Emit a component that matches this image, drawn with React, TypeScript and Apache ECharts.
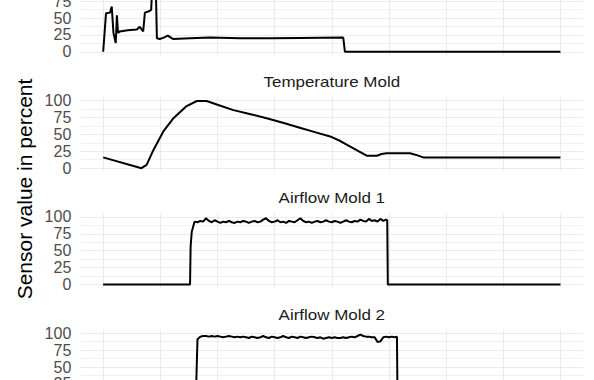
import React, { useEffect, useRef } from "react";
import * as echarts from "echarts";

// ---------- data (x in time units, y in percent) ----------
const topX = [0, 5, 12, 15, 18, 22, 24, 26, 29, 43, 59, 64, 70, 73, 80, 84, 86, 92, 94, 99, 106, 113, 122, 152, 187, 239, 292, 344, 420, 423, 800];
const topY = [0, 57, 58, 67, 28, 13, 54, 28, 30, 32, 33, 37, 30, 58, 60, 62, 100, 100, 20, 19, 21, 24, 19, 20, 21, 20, 20, 20.5, 21, 0, 0];

const tempX = [0, 67, 76, 88, 105, 123, 146, 164, 181, 200, 228, 258, 286, 316, 344, 372, 397, 413, 426, 445, 461, 479, 487, 496, 537, 546, 560, 800];
const tempY = [16, 0, 5, 27, 54, 74, 92, 99.5, 99.5, 94, 86, 80, 74, 67, 60, 53, 47, 41, 35, 26, 18.5, 18.5, 21, 22, 22, 20, 16, 16];

const af1StartX = [0, 152, 153, 155, 160];
const af1StartY = [0, 0, 56, 78, 93];
const af1PlateauFrom = 165;
const af1PlateauStep = 5;
const af1Plateau = [92, 94, 93, 98, 94, 92, 95, 93, 91, 93, 92, 94, 92, 91, 93, 92, 94, 93, 91, 93, 94, 92, 93, 96, 98, 94, 92, 93, 95, 92, 93, 91, 94, 93, 92, 95, 98, 94, 92, 93, 91, 93, 94, 92, 93, 95, 93, 92, 94, 93, 91, 93, 95, 93, 92, 94, 93, 96, 94, 93, 97, 94, 95, 93, 97, 94, 96];
const af1EndX = [497, 498, 800];
const af1EndY = [95, 0, 0];

const af2StartX = [0, 162, 164, 165, 170];
const af2StartY = [0, 0, 60, 91, 95];
const af2PlateauFrom = 175;
const af2PlateauStep = 5;
const af2Plateau = [96, 96, 95, 96, 95, 96, 95, 94, 95, 96, 95, 94, 95, 94, 95, 94, 93, 95, 94, 93, 94, 96, 94, 93, 95, 94, 93, 94, 96, 94, 93, 95, 94, 93, 95, 94, 93, 94, 95, 94, 93, 94, 92, 93, 94, 93, 94, 93, 93, 94, 93, 94, 95, 94, 96, 98, 96, 95, 95, 94, 94, 87, 88, 94, 95, 94, 95, 94];
const af2EndX = [514, 515, 800];
const af2EndY = [95, 0, 0];

const panelTitles = ["", "Temperature Mold", "Airflow Mold 1", "Airflow Mold 2"];
const yTickLabels = [0, 25, 50, 75, 100];
const yAxisTitle = "Sensor value in percent";

// ---------- helpers ----------
const zip = (xs: number[], ys: number[]) => xs.map((x, i) => [x, ys[i]]);
const plateau = (from: number, step: number, vals: number[]) => vals.map((v, i) => [from + i * step, v]);

const series0 = zip(topX, topY);
const series1 = zip(tempX, tempY);
const series2 = [...zip(af1StartX, af1StartY), ...plateau(af1PlateauFrom, af1PlateauStep, af1Plateau), ...zip(af1EndX, af1EndY)];
const series3 = [...zip(af2StartX, af2StartY), ...plateau(af2PlateauFrom, af2PlateauStep, af2Plateau), ...zip(af2EndX, af2EndY)];
const allSeries = [series0, series1, series2, series3];

// ---------- layout ----------
const OFFSET = 120;
const panelTops = [-19.1, 97.3, 213.5, 329.9];
const panelHeight = 74.25;
const panelLeft = 80.3;
const panelWidth = 503;

export default function App() {
  const ref = useRef<HTMLDivElement>(null);
  useEffect(() => {
    if (!ref.current) return;
    const chart = echarts.init(ref.current, null, { renderer: "svg" });
    const grid = panelTops.map((t) => ({ left: panelLeft, top: t + OFFSET, width: panelWidth, height: panelHeight }));
    const xAxis = panelTops.map((_, i) => ({
      type: "value",
      gridIndex: i,
      min: -40,
      max: 840,
      splitNumber: 9,
      minInterval: 100,
      maxInterval: 100,
      axisLine: { show: false },
      axisTick: { show: false },
      axisLabel: { show: false },
      splitLine: { show: true, showMinLine: false, showMaxLine: false, lineStyle: { color: "#EBEBEB", width: 1.1 } },
    }));
    const yAxis = panelTops.map((_, i) => ({
      type: "value",
      gridIndex: i,
      min: -5,
      max: 105,
      splitNumber: 4,
      minInterval: 25,
      maxInterval: 25,
      axisLine: { show: false },
      axisTick: { show: false },
      axisLabel: {
        color: "#4D4D4D",
        fontSize: 16,
        fontFamily: "Liberation Sans",
        margin: 9,
        formatter: (v: number) => (yTickLabels.includes(v) ? String(v) : ""),
      },
      splitLine: { show: true, showMinLine: false, showMaxLine: false, lineStyle: { color: "#EBEBEB", width: 1.1 } },
      minorTick: { show: false, splitNumber: 2 },
      minorSplitLine: { show: true, lineStyle: { color: "#F0F0F0", width: 1 } },
    }));
    const series = allSeries.map((d, i) => ({
      type: "line",
      xAxisIndex: i,
      yAxisIndex: i,
      data: d,
      symbol: "none",
      showSymbol: false,
      lineStyle: { color: "#000000", width: 2 },
      clip: true,
    }));
    const graphic: any[] = [];
    panelTitles.forEach((t, i) => {
      if (!t) return;
      graphic.push({
        type: "text",
        x: panelLeft + panelWidth / 2,
        y: panelTops[i] - 15.3 + OFFSET,
        scaleX: 1.17,
        style: {
          text: t,
          fill: "#1A1A1A",
          fontSize: 14.5,
          fontFamily: "Liberation Sans",
          align: "center",
          verticalAlign: "middle",
        },
      });
    });
    graphic.push({
      type: "text",
      x: 24,
      y: 189 + OFFSET,
      rotation: Math.PI / 2,
      style: {
        text: yAxisTitle,
        fill: "#000000",
        fontSize: 21,
        fontFamily: "Liberation Sans",
        align: "center",
        verticalAlign: "middle",
      },
    });
    chart.setOption({
      animation: false,
      backgroundColor: "#FFFFFF",
      grid,
      xAxis,
      yAxis,
      series,
      graphic,
    });
    return () => chart.dispose();
  }, []);
  return (
    <div style={{ position: "fixed", left: 0, top: 0, width: 594, height: 380, overflow: "hidden", background: "#fff" }}>
      <div ref={ref} style={{ position: "absolute", left: 0, top: -OFFSET, width: 594, height: 560 }} />
    </div>
  );
}
